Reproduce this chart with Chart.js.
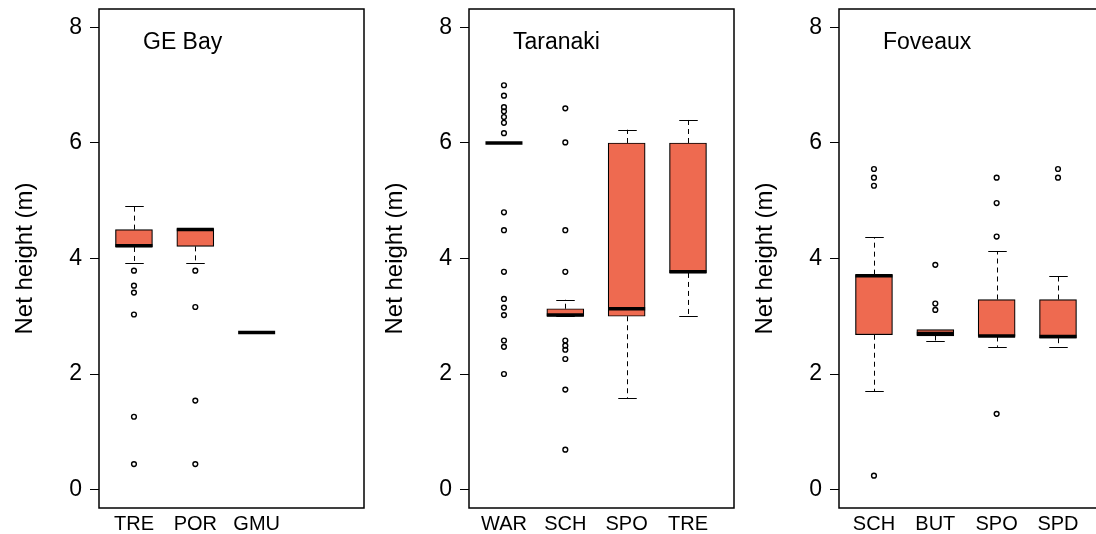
<!DOCTYPE html>
<html>
<head>
<meta charset="utf-8">
<script src="https://cdn.jsdelivr.net/npm/chart.js@4"></script>
<style>
html, body { margin: 0; padding: 0; background: #fff; }
#wrap { position: relative; width: 1096px; height: 534px; overflow: hidden; }
.panel { position: absolute; top: 0; width: 370px; height: 534px; }
</style>
</head>
<body>
<div id="wrap">
  <div class="panel" style="left:0px"><canvas id="c1" width="370" height="534"></canvas></div>
  <div class="panel" style="left:370px"><canvas id="c2" width="370" height="534"></canvas></div>
  <div class="panel" style="left:740px"><canvas id="c3" width="370" height="534"></canvas></div>
</div>
<script>
// y axis
var yTicks = [0, 2, 4, 6, 8];
var yTitle = 'Net height (m)';

// GE Bay
var geCats = ['TRE', 'POR', 'GMU'];
var geLow  = [3.93, 3.93, 2.72];
var geQ1   = [4.20, 4.21, 2.72];
var geMed  = [4.22, 4.50, 2.72];
var geQ3   = [4.50, 4.52, 2.72];
var geHigh = [4.91, 4.52, 2.72];
var geOut  = [[3.79, 3.53, 3.41, 3.03, 1.26, 0.44], [3.79, 3.16, 1.54, 0.44], []];

// Taranaki
var taCats = ['WAR', 'SCH', 'SPO', 'TRE'];
var taLow  = [6.00, 3.00, 1.58, 3.00];
var taQ1   = [6.00, 3.00, 3.00, 3.75];
var taMed  = [6.00, 3.02, 3.13, 3.77];
var taQ3   = [6.00, 3.13, 6.00, 6.00];
var taHigh = [6.00, 3.29, 6.23, 6.40];
var taOut  = [[7.00, 6.82, 6.62, 6.55, 6.45, 6.35, 6.17, 4.80, 4.49, 3.77, 3.30, 3.15, 3.02, 2.58, 2.47, 2.00],
              [6.60, 6.01, 4.49, 3.77, 2.58, 2.49, 2.42, 2.26, 1.73, 0.69], [], []];

// Foveaux
var foCats = ['SCH', 'BUT', 'SPO', 'SPD'];
var foLow  = [1.70, 2.58, 2.47, 2.47];
var foQ1   = [2.68, 2.66, 2.65, 2.62];
var foMed  = [3.70, 2.70, 2.66, 2.65];
var foQ3   = [3.72, 2.77, 3.29, 3.29];
var foHigh = [4.37, 2.77, 4.13, 3.69];
var foOut  = [[5.55, 5.40, 5.26, 0.24], [3.89, 3.22, 3.11], [5.40, 4.96, 4.38, 1.31], [5.55, 5.40]];

Chart.defaults.font.family = '"Liberation Sans", Arial, sans-serif';
Chart.defaults.color = '#000';

var BOX_W = 37;

function boxExtras(title, cats, lo, q1, med, q3, hi) {
    return {
        id: 'boxExtras',
        beforeDatasetsDraw: function (chart) {
            var ctx = chart.ctx, xs = chart.scales.x, ys = chart.scales.y;
            ctx.save();
            ctx.strokeStyle = '#000';
            ctx.lineWidth = 1;
            for (var i = 0; i < cats.length; i++) {
                var px = Math.round(xs.getPixelForValue(i + 1)) + 0.5;
                ctx.setLineDash([5, 4]);
                ctx.beginPath();
                if (hi[i] > q3[i]) {
                    ctx.moveTo(px, ys.getPixelForValue(q3[i]));
                    ctx.lineTo(px, ys.getPixelForValue(hi[i]));
                }
                if (lo[i] < q1[i]) {
                    ctx.moveTo(px, ys.getPixelForValue(q1[i]));
                    ctx.lineTo(px, ys.getPixelForValue(lo[i]));
                }
                ctx.stroke();
                ctx.setLineDash([]);
                if (hi[i] > lo[i]) {
                    ctx.beginPath();
                    var yh = Math.round(ys.getPixelForValue(hi[i])) + 0.5;
                    var yl = Math.round(ys.getPixelForValue(lo[i])) + 0.5;
                    ctx.moveTo(px - BOX_W / 4, yh); ctx.lineTo(px + BOX_W / 4, yh);
                    ctx.moveTo(px - BOX_W / 4, yl); ctx.lineTo(px + BOX_W / 4, yl);
                    ctx.stroke();
                }
            }
            ctx.restore();
        },
        afterDatasetsDraw: function (chart) {
            var ctx = chart.ctx, xs = chart.scales.x, ys = chart.scales.y, a = chart.chartArea;
            ctx.save();
            // medians
            ctx.strokeStyle = '#000';
            ctx.lineWidth = 3.5;
            for (var i = 0; i < cats.length; i++) {
                var px = xs.getPixelForValue(i + 1);
                var py = ys.getPixelForValue(med[i]);
                ctx.beginPath();
                ctx.moveTo(px - BOX_W / 2, py);
                ctx.lineTo(px + BOX_W / 2, py);
                ctx.stroke();
            }
            // frame
            ctx.lineWidth = 1.5;
            ctx.strokeRect(a.left, a.top, a.right - a.left, a.bottom - a.top);
            // panel title
            ctx.fillStyle = '#000';
            ctx.font = '23px "Liberation Sans", Arial, sans-serif';
            ctx.textAlign = 'left';
            ctx.textBaseline = 'middle';
            ctx.fillText(title, a.left + 44, 43);
            ctx.restore();
        }
    };
}

function makePanel(id, title, cats, lo, q1, med, q3, hi, out) {
    var boxes = [];
    var points = [];
    for (var i = 0; i < cats.length; i++) {
        boxes.push({ x: i + 1, y: [q1[i], q3[i]] });
        for (var j = 0; j < out[i].length; j++) {
            points.push({ x: i + 1, y: out[i][j] });
        }
    }
    var ctx = document.getElementById(id).getContext('2d');
    return new Chart(ctx, {
        type: 'bar',
        data: {
            datasets: [{
                type: 'bar',
                data: boxes,
                backgroundColor: '#EE6A50',
                borderColor: '#000',
                borderWidth: 1.2,
                borderSkipped: false,
                barThickness: BOX_W
            }, {
                type: 'scatter',
                data: points,
                pointStyle: 'circle',
                pointRadius: 2.4,
                pointBorderWidth: 1.4,
                pointBackgroundColor: 'rgba(255,255,255,0)',
                pointBorderColor: '#000'
            }]
        },
        options: {
            responsive: false,
            animation: false,
            layout: { padding: { top: 9, right: 6, left: 0, bottom: 0 } },
            plugins: { legend: { display: false }, tooltip: { enabled: false } },
            scales: {
                x: {
                    type: 'linear',
                    offset: false,
                    min: 0.43,
                    max: 4.75,
                    grid: { display: false, drawTicks: false, tickLength: 0 },
                    border: { display: false },
                    ticks: {
                        autoSkip: false,
                        maxRotation: 0,
                        padding: 4,
                        font: { size: 20 },
                        callback: function (v) { return cats[Math.round(v) - 1]; }
                    },
                    afterBuildTicks: function (scale) {
                        scale.ticks = cats.map(function (c, i) { return { value: i + 1 }; });
                    },
                    afterFit: function (scale) {
                        scale.height = 26;
                        scale.paddingLeft = 0;
                        scale.paddingRight = 0;
                    }
                },
                y: {
                    min: -0.32,
                    max: 8.32,
                    grid: { drawOnChartArea: false, drawTicks: true, tickLength: 9, color: '#000', lineWidth: 1 },
                    border: { display: false },
                    ticks: { padding: 8, font: { size: 23 } },
                    afterBuildTicks: function (scale) {
                        scale.ticks = yTicks.map(function (v) { return { value: v }; });
                    },
                    title: { display: true, text: yTitle, font: { size: 24 }, padding: { top: 11, bottom: 0 } },
                    afterFit: function (scale) {
                        scale.width = 99;
                        scale.paddingTop = 0;
                        scale.paddingBottom = 0;
                    }
                }
            }
        },
        plugins: [boxExtras(title, cats, lo, q1, med, q3, hi)]
    });
}

makePanel('c1', 'GE Bay', geCats, geLow, geQ1, geMed, geQ3, geHigh, geOut);
makePanel('c2', 'Taranaki', taCats, taLow, taQ1, taMed, taQ3, taHigh, taOut);
makePanel('c3', 'Foveaux', foCats, foLow, foQ1, foMed, foQ3, foHigh, foOut);
</script>
</body>
</html>
